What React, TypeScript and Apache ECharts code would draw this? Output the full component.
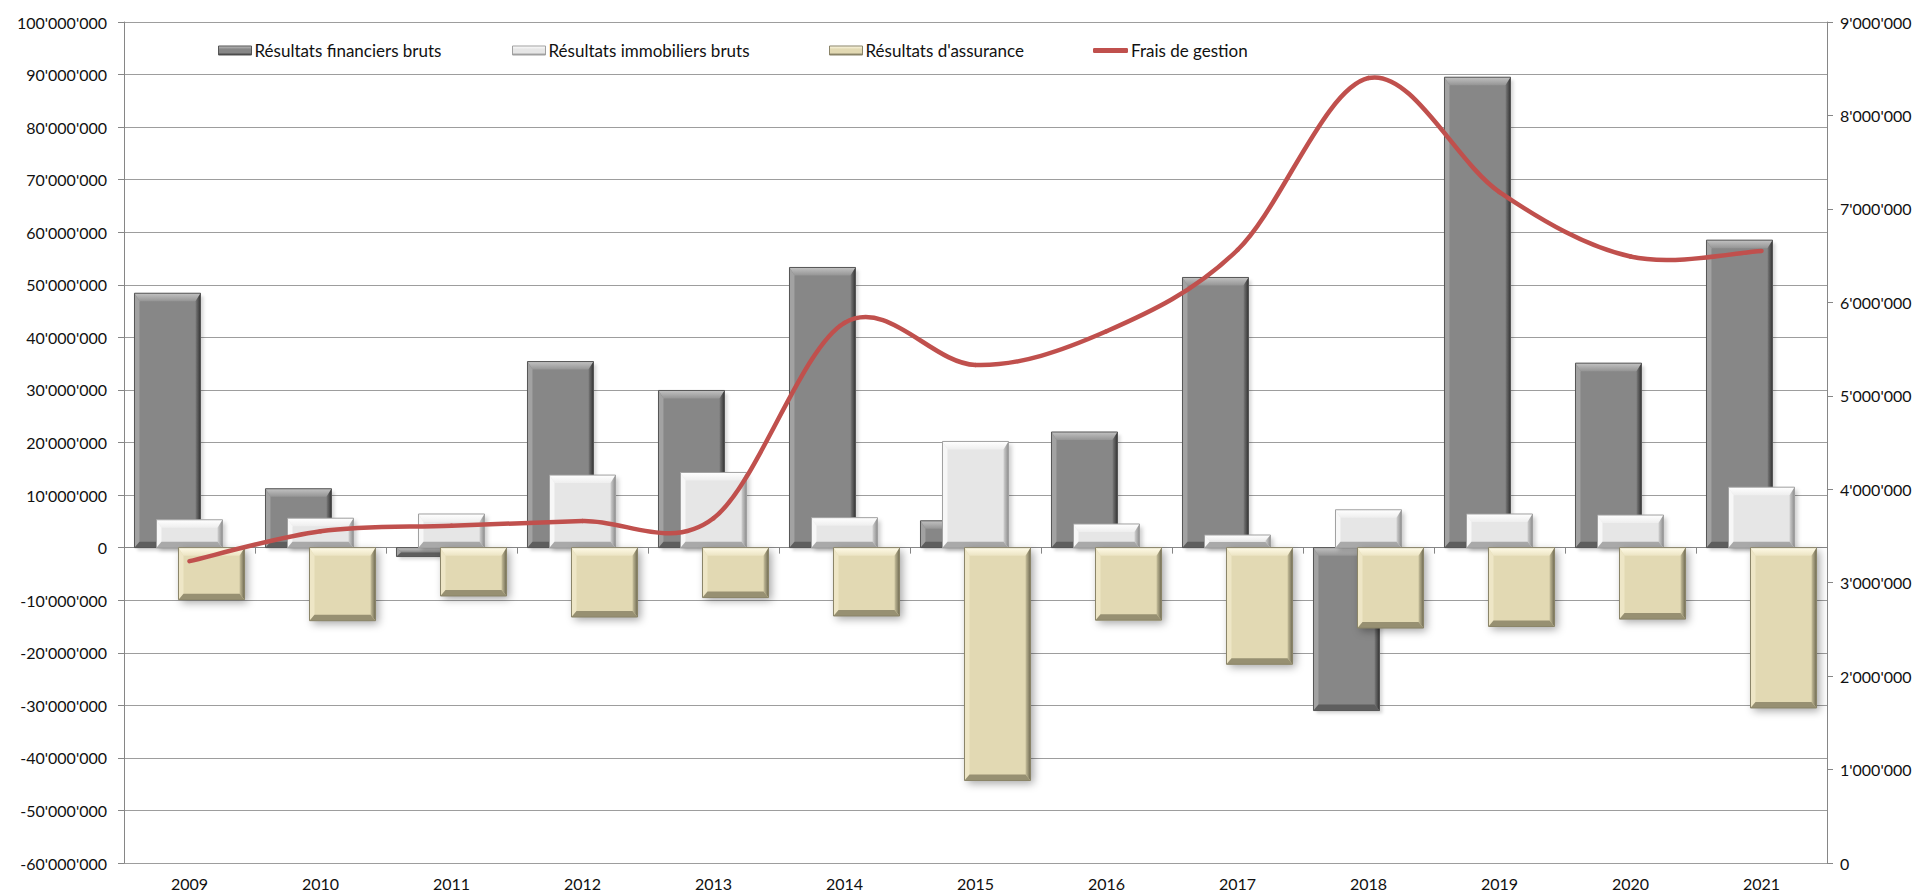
import { useEffect, useRef } from 'react';
import * as echarts from 'echarts';

const years = ['2009', '2010', '2011', '2012', '2013', '2014', '2015', '2016', '2017', '2018', '2019', '2020', '2021'];

const financiers = [48400000, 11200000, -1700000, 35400000, 29900000, 53300000, 5100000, 22000000, 51400000, -31000000, 89500000, 35100000, 58500000];
const immobiliers = [5300000, 5600000, 6400000, 13800000, 14300000, 5700000, 20200000, 4500000, 2400000, 7200000, 6400000, 6200000, 11500000];
const assurance = [-9900000, -13900000, -9200000, -13200000, -9500000, -13000000, -44300000, -13800000, -22200000, -15300000, -15000000, -13600000, -30500000];
const fraisGestion = [3230000, 3550000, 3610000, 3660000, 3690000, 5780000, 5330000, 5690000, 6560000, 8400000, 7180000, 6490000, 6550000];

const seriesNames = ['Résultats financiers bruts', 'Résultats immobiliers bruts', "Résultats d'assurance", 'Frais de gestion'];

const FONT = 'Lato, "Open Sans", sans-serif';
const LINE_COLOR = '#C0504D';

function fmt(v: number): string {
  const neg = v < 0;
  const s = Math.round(Math.abs(v)).toString().replace(/\B(?=(\d{3})+(?!\d))/g, "'");
  return (neg ? '-' : '') + s;
}

type Palette = {
  base: string; topA: string; topB: string; left: string; rightA: string; rightB: string;
  bottom: string; border: string; shadow: string; shadowBlur: number;
};

const grayP: Palette = { base: '#878787', topA: '#c2c2c2', topB: '#959595', left: '#a2a2a2', rightA: '#7a7a7a', rightB: '#333333', bottom: '#5e5e5e', border: '#555555', shadow: 'rgba(0,0,0,0.15)', shadowBlur: 3 };
const whiteP: Palette = { base: '#e6e6e6', topA: '#ffffff', topB: '#eeeeee', left: '#f7f7f7', rightA: '#d0d0d0', rightB: '#8c8c8c', bottom: '#a9a9a9', border: '#a0a0a0', shadow: 'rgba(0,0,0,0.2)', shadowBlur: 4 };
const tanP: Palette = { base: '#e2d9b3', topA: '#fffbe8', topB: '#ece4c3', left: '#eee6c6', rightA: '#c8c09c', rightB: '#6f6a52', bottom: '#979072', border: '#8a8468', shadow: 'rgba(0,0,0,0.35)', shadowBlur: 8 };

function makeRender(offsetFrac: number, p: Palette) {
  return (params: any, api: any) => {
    const idx = api.value(0);
    const val = api.value(1);
    const band = api.size([1, 0])[0];
    const w = band * 0.504;
    const cx = api.coord([idx, 0])[0] + band * offsetFrac;
    const yv = api.coord([idx, val])[1];
    const y0 = api.coord([idx, 0])[1];
    const top = Math.min(yv, y0);
    const bot = Math.max(yv, y0);
    const h = bot - top;
    const x0 = cx - w / 2;
    const x1 = cx + w / 2;
    const bs = Math.min(5, w / 2);
    const bt = Math.min(8, h * 0.45);
    const bb = Math.min(6, h * 0.45);
    const bsv = Math.min(bs, h / 2);
    return {
      type: 'group',
      children: [
        {
          type: 'rect',
          shape: { x: x0, y: top, width: w, height: h },
          style: { fill: p.base, shadowBlur: p.shadowBlur, shadowColor: p.shadow, shadowOffsetX: 3, shadowOffsetY: 3 },
        },
        {
          type: 'polygon',
          shape: { points: [[x0, top], [x1, top], [x1 - bsv, top + bt], [x0 + bsv, top + bt]] },
          style: { fill: new echarts.graphic.LinearGradient(0, 0, 0, 1, [{ offset: 0, color: p.topA }, { offset: 1, color: p.topB }]) },
        },
        {
          type: 'polygon',
          shape: { points: [[x0, top], [x0 + bsv, top + bt], [x0 + bsv, bot - bb], [x0, bot]] },
          style: { fill: p.left },
        },
        {
          type: 'polygon',
          shape: { points: [[x1, top], [x1, bot], [x1 - bsv, bot - bb], [x1 - bsv, top + bt]] },
          style: { fill: new echarts.graphic.LinearGradient(0, 0, 1, 0, [{ offset: 0, color: p.rightA }, { offset: 1, color: p.rightB }]) },
        },
        {
          type: 'polygon',
          shape: { points: [[x0, bot], [x0 + bsv, bot - bb], [x1 - bsv, bot - bb], [x1, bot]] },
          style: { fill: p.bottom },
        },
        {
          type: 'rect',
          shape: { x: x0, y: top, width: w, height: h },
          style: { fill: 'none', stroke: p.border, lineWidth: 1 },
        },
      ],
    };
  };
}

// Excel-like smoothed line: Catmull-Rom segments through the data points (via the axes' coord)
function renderSmoothSegment(params: any, api: any) {
  const i = params.dataIndex;
  const n = fraisGestion.length;
  if (i >= n - 1) return null;
  const pt = (j: number) => {
    const k = Math.max(0, Math.min(n - 1, j));
    return api.coord([k, fraisGestion[k]]);
  };
  const p0 = pt(i - 1);
  const p1 = pt(i);
  const p2 = pt(i + 1);
  const p3 = pt(i + 2);
  return {
    type: 'bezierCurve',
    shape: {
      x1: p1[0], y1: p1[1],
      cpx1: p1[0] + (p2[0] - p0[0]) / 6, cpy1: p1[1] + (p2[1] - p0[1]) / 6,
      cpx2: p2[0] - (p3[0] - p1[0]) / 6, cpy2: p2[1] - (p3[1] - p1[1]) / 6,
      x2: p2[0], y2: p2[1],
    },
    style: { fill: 'none', stroke: LINE_COLOR, lineWidth: 4.5, lineCap: 'round' },
  };
}

function legendColor(p: Palette) {
  return new echarts.graphic.LinearGradient(0, 0, 0, 1, [
    { offset: 0, color: p.topA },
    { offset: 0.35, color: p.base },
    { offset: 0.75, color: p.base },
    { offset: 1, color: p.rightB },
  ]);
}

export default function App() {
  const ref = useRef<HTMLDivElement>(null);
  useEffect(() => {
    if (!ref.current) return;
    const chart = echarts.init(ref.current, null, { renderer: 'svg' });
    const textStyle = { fontFamily: FONT, fontSize: 15, color: '#111' };
    const mkLegend = (name: string, left: number, p: Palette | null) => ({
      left,
      top: 42,
      orient: 'horizontal',
      itemWidth: p ? 33 : 35,
      itemHeight: p ? 9 : 5,
      itemGap: 3,
      padding: 0,
      textStyle: { ...textStyle, fontSize: 17, padding: [0, 0, 0, -2] },
      data: [p
        ? { name, icon: 'rect', itemStyle: { color: legendColor(p), borderColor: p.border, borderWidth: 1 } }
        : { name, icon: 'roundRect', itemStyle: { color: LINE_COLOR, borderWidth: 0 } }],
    });
    const option: any = {
      animation: false,
      backgroundColor: '#ffffff',
      textStyle: { fontFamily: FONT },
      legend: [
        mkLegend(seriesNames[0], 218, grayP),
        mkLegend(seriesNames[1], 512, whiteP),
        mkLegend(seriesNames[2], 829, tanP),
        mkLegend(seriesNames[3], 1093, null),
      ],
      grid: { left: 124, right: 96, top: 22, bottom: 33, containLabel: false, outerBoundsMode: 'none' },
      xAxis: [
        {
          type: 'category',
          data: years,
          position: 'bottom',
          axisLine: { show: false, onZero: false },
          axisTick: { show: false },
          axisLabel: { ...textStyle, fontSize: 16, margin: 12 },
          splitLine: { show: false },
        },
        {
          type: 'category',
          data: years,
          position: 'bottom',
          axisLine: { show: true, onZero: true, onZeroAxisIndex: 0, lineStyle: { color: '#868686', width: 1 } },
          axisTick: { show: true, length: 6, lineStyle: { color: '#868686' } },
          axisLabel: { show: false },
          splitLine: { show: false },
        },
      ],
      yAxis: [
        {
          type: 'value',
          min: -60000000,
          max: 100000000,
          interval: 10000000,
          position: 'left',
          axisLine: { show: true, lineStyle: { color: '#868686' } },
          axisTick: { show: true, length: 6, lineStyle: { color: '#868686' } },
          axisLabel: { ...textStyle, fontSize: 16, margin: 17, formatter: (v: number) => fmt(v) },
          splitLine: { show: true, lineStyle: { color: '#9d9d9d', width: 1 } },
        },
        {
          type: 'value',
          min: 0,
          max: 9000000,
          interval: 1000000,
          position: 'right',
          axisLine: { show: true, lineStyle: { color: '#868686' } },
          axisTick: { show: true, length: 6, lineStyle: { color: '#868686' } },
          axisLabel: { ...textStyle, fontSize: 16, margin: 13, formatter: (v: number) => fmt(v) },
          splitLine: { show: false },
        },
      ],
      series: [
        {
          name: seriesNames[0],
          type: 'custom',
          xAxisIndex: 0,
          yAxisIndex: 0,
          itemStyle: { color: grayP.base },
          renderItem: makeRender(-0.168, grayP),
          encode: { x: 0, y: 1 },
          data: financiers.map((v, i) => [i, v]),
          z: 2,
        },
        {
          name: seriesNames[1],
          type: 'custom',
          xAxisIndex: 0,
          yAxisIndex: 0,
          itemStyle: { color: whiteP.base },
          renderItem: makeRender(0, whiteP),
          encode: { x: 0, y: 1 },
          data: immobiliers.map((v, i) => [i, v]),
          z: 3,
        },
        {
          name: seriesNames[2],
          type: 'custom',
          xAxisIndex: 0,
          yAxisIndex: 0,
          itemStyle: { color: tanP.base },
          renderItem: makeRender(0.168, tanP),
          encode: { x: 0, y: 1 },
          data: assurance.map((v, i) => [i, v]),
          z: 4,
        },
        {
          name: seriesNames[3],
          type: 'custom',
          xAxisIndex: 0,
          yAxisIndex: 1,
          itemStyle: { color: LINE_COLOR },
          renderItem: renderSmoothSegment,
          encode: { x: 0, y: 1 },
          data: fraisGestion.map((v, i) => [i, v]),
          z: 10,
        },
      ],
    };
    chart.setOption(option);
    return () => chart.dispose();
  }, []);
  return <div ref={ref} style={{ position: 'fixed', left: 0, top: 0, width: '1923px', height: '896px' }} />;
}
